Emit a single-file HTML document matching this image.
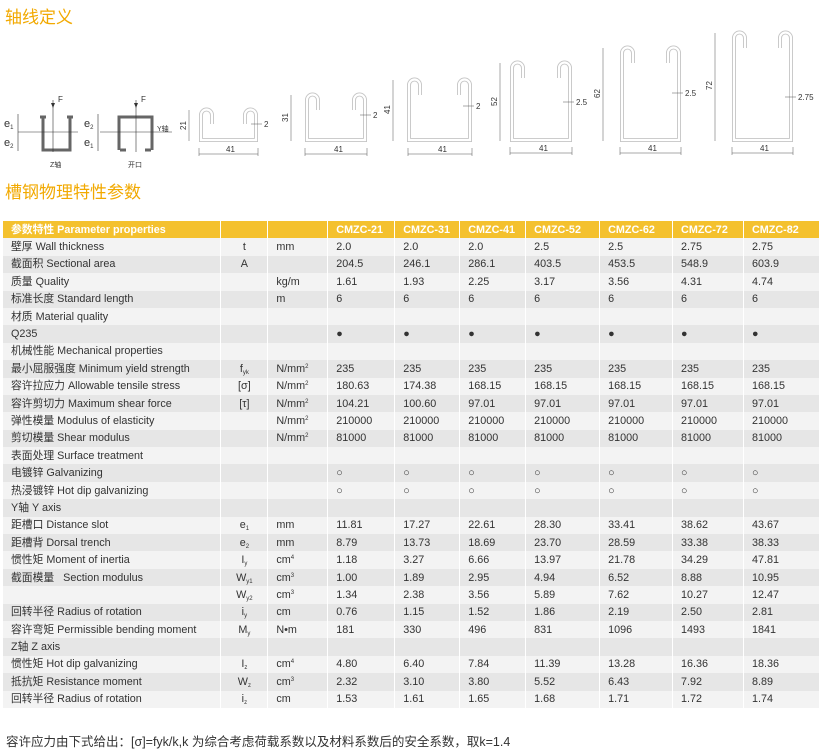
<!DOCTYPE html>
<html><head><meta charset="utf-8"><style>
body{margin:0;width:820px;height:749px;background:#fff;position:relative;overflow:hidden;font-family:"Liberation Sans","Noto Sans CJK SC",sans-serif;color:#333}
.t{position:absolute;left:5px;color:#f2a900;font-size:17px;line-height:20px;font-family:"Noto Sans CJK SC",sans-serif}
table{position:absolute;left:3px;top:221px;border-collapse:collapse;table-layout:fixed;font-size:10.8px}
tr{height:17.4px}
td{height:17.4px;max-height:17.4px;padding:0 0 0 8px;border-right:1.5px solid #fff;white-space:nowrap;overflow:hidden;line-height:14px;box-sizing:border-box}
tr.h td{background:#f4c12e;color:#fff;font-weight:bold;height:17px}
tr:nth-child(even) td{background:#f3f3f3}
tr:nth-child(odd):not(.h) td{background:#e6e6e6}
td.c{text-align:center;padding:0}
sub,sup{font-size:6px;vertical-align:baseline;position:relative;line-height:0}
sub{top:2px}sup{top:-4px}
.f{position:absolute;left:6px;top:731px;font-size:12.5px;color:#333}
</style></head><body>
<div class="t" style="top:6px">轴线定义</div>
<div class="t" style="top:181px">槽钢物理特性参数</div>
<svg width="820" height="170" style="position:absolute;left:0;top:0" font-family="Liberation Sans" font-size="8" fill="#333">
<g stroke="#666" stroke-width="3" fill="none">
<path d="M43 117 V150 H70 V117"/><path d="M40 117 h6 M67 117 h6"/>
<path d="M119 150 V117 H152 V150"/><path d="M120 150 h6 M145 150 h6"/>
</g>
<g stroke="#333" stroke-width="0.6">
<line x1="18" y1="132" x2="78" y2="132"/><line x1="53" y1="100" x2="53" y2="152"/>
<line x1="100" y1="132" x2="172" y2="132"/><line x1="136" y1="100" x2="136" y2="152"/>
<line x1="18" y1="114" x2="18" y2="151"/><line x1="98" y1="114" x2="98" y2="151"/>
</g>
<path d="M51 103 h4 l-2 5z M134 103 h4 l-2 5z" fill="#333"/>
<text x="58" y="102">F</text><text x="141" y="102">F</text>
<text x="4" y="127" font-size="11">e<tspan font-size="6" dy="2">1</tspan></text>
<text x="4" y="146" font-size="11">e<tspan font-size="6" dy="2">2</tspan></text>
<text x="84" y="127" font-size="11">e<tspan font-size="6" dy="2">2</tspan></text>
<text x="84" y="146" font-size="11">e<tspan font-size="6" dy="2">1</tspan></text>
<text x="157" y="131" font-size="7">Y轴</text>
<text x="50" y="167" font-size="7">Z轴</text><text x="128" y="167" font-size="7">开口</text>
<g fill="none">
<g stroke="#c4c4c4" stroke-width="4">
<path d="M212 124 V115 A5 5 0 0 0 201 115 V140 H256 V115 A5 5 0 0 0 245 115 V124"/>
<path d="M318 110 V100 A5 5 0 0 0 307 100 V140 H365 V100 A5 5 0 0 0 354 100 V110"/>
<path d="M420 95 V85 A5 5 0 0 0 409 85 V140 H470 V85 A5 5 0 0 0 459 85 V95"/>
<path d="M523 78 V68 A5 5 0 0 0 512 68 V140 H570 V68 A5 5 0 0 0 559 68 V78"/>
<path d="M633 63 V53 A5 5 0 0 0 622 53 V140 H679 V53 A5 5 0 0 0 668 53 V63"/>
<path d="M745 48 V38 A5 5 0 0 0 734 38 V140 H791 V38 A5 5 0 0 0 780 38 V48"/>
</g>
<g stroke="#fff" stroke-width="2.2">
<path d="M212 124 V115 A5 5 0 0 0 201 115 V140 H256 V115 A5 5 0 0 0 245 115 V124"/>
<path d="M318 110 V100 A5 5 0 0 0 307 100 V140 H365 V100 A5 5 0 0 0 354 100 V110"/>
<path d="M420 95 V85 A5 5 0 0 0 409 85 V140 H470 V85 A5 5 0 0 0 459 85 V95"/>
<path d="M523 78 V68 A5 5 0 0 0 512 68 V140 H570 V68 A5 5 0 0 0 559 68 V78"/>
<path d="M633 63 V53 A5 5 0 0 0 622 53 V140 H679 V53 A5 5 0 0 0 668 53 V63"/>
<path d="M745 48 V38 A5 5 0 0 0 734 38 V140 H791 V38 A5 5 0 0 0 780 38 V48"/>
</g>
<g stroke="#555" stroke-width="0.5">
<path d="M189 110 V141 M199 154 H258 M199 148 V156 M258 148 V156 M251 124 H262"/>
<path d="M291 95 V141 M305 154 H367 M305 148 V156 M367 148 V156 M360 115 H371"/>
<path d="M393 80 V141 M408 154 H472 M408 148 V156 M472 148 V156 M463 106 H474"/>
<path d="M500 63 V141 M510 153 H572 M510 147 V155 M572 147 V155 M563 102 H574"/>
<path d="M603 48 V141 M620 153 H681 M620 147 V155 M681 147 V155 M672 93 H683"/>
<path d="M715 33 V141 M732 153 H793 M732 147 V155 M793 147 V155 M785 97 H796"/>
</g></g>
<g font-size="8">
<text x="226" y="152">41</text><text x="334" y="152">41</text><text x="438" y="152">41</text><text x="539" y="151">41</text><text x="648" y="151">41</text><text x="760" y="151">41</text>
<text x="264" y="127">2</text><text x="373" y="118">2</text><text x="476" y="109">2</text><text x="576" y="105">2.5</text><text x="685" y="96">2.5</text><text x="798" y="100">2.75</text>
<text transform="translate(186,130) rotate(-90)">21</text><text transform="translate(288,122) rotate(-90)">31</text>
<text transform="translate(390,114) rotate(-90)">41</text><text transform="translate(497,106) rotate(-90)">52</text>
<text transform="translate(600,98) rotate(-90)">62</text><text transform="translate(712,90) rotate(-90)">72</text>
</g>
</svg>
<table>
<colgroup><col style="width:218px"><col style="width:47px"><col style="width:60px"><col style="width:67px"><col style="width:65px"><col style="width:66px"><col style="width:74px"><col style="width:73px"><col style="width:71px"><col style="width:76px"></colgroup>
<tr class="h"><td>参数特性 Parameter properties</td><td></td><td></td><td>CMZC-21</td><td>CMZC-31</td><td>CMZC-41</td><td>CMZC-52</td><td>CMZC-62</td><td>CMZC-72</td><td>CMZC-82</td></tr>
<tr><td>壁厚 Wall thickness</td><td class="c">t</td><td>mm</td><td>2.0</td><td>2.0</td><td>2.0</td><td>2.5</td><td>2.5</td><td>2.75</td><td>2.75</td></tr>
<tr><td>截面积 Sectional area</td><td class="c">A</td><td></td><td>204.5</td><td>246.1</td><td>286.1</td><td>403.5</td><td>453.5</td><td>548.9</td><td>603.9</td></tr>
<tr><td>质量 Quality</td><td></td><td>kg/m</td><td>1.61</td><td>1.93</td><td>2.25</td><td>3.17</td><td>3.56</td><td>4.31</td><td>4.74</td></tr>
<tr><td>标准长度 Standard length</td><td></td><td>m</td><td>6</td><td>6</td><td>6</td><td>6</td><td>6</td><td>6</td><td>6</td></tr>
<tr><td>材质 Material quality</td><td></td><td></td><td></td><td></td><td></td><td></td><td></td><td></td><td></td></tr>
<tr><td>Q235</td><td></td><td></td><td>●</td><td>●</td><td>●</td><td>●</td><td>●</td><td>●</td><td>●</td></tr>
<tr><td>机械性能 Mechanical properties</td><td></td><td></td><td></td><td></td><td></td><td></td><td></td><td></td><td></td></tr>
<tr><td>最小屈服强度 Minimum yield strength</td><td class="c">f<sub>yk</sub></td><td>N/mm<sup>2</sup></td><td>235</td><td>235</td><td>235</td><td>235</td><td>235</td><td>235</td><td>235</td></tr>
<tr><td>容许拉应力 Allowable tensile stress</td><td class="c">[σ]</td><td>N/mm<sup>2</sup></td><td>180.63</td><td>174.38</td><td>168.15</td><td>168.15</td><td>168.15</td><td>168.15</td><td>168.15</td></tr>
<tr><td>容许剪切力 Maximum shear force</td><td class="c">[τ]</td><td>N/mm<sup>2</sup></td><td>104.21</td><td>100.60</td><td>97.01</td><td>97.01</td><td>97.01</td><td>97.01</td><td>97.01</td></tr>
<tr><td>弹性模量 Modulus of elasticity</td><td></td><td>N/mm<sup>2</sup></td><td>210000</td><td>210000</td><td>210000</td><td>210000</td><td>210000</td><td>210000</td><td>210000</td></tr>
<tr><td>剪切模量 Shear modulus</td><td></td><td>N/mm<sup>2</sup></td><td>81000</td><td>81000</td><td>81000</td><td>81000</td><td>81000</td><td>81000</td><td>81000</td></tr>
<tr><td>表面处理 Surface treatment</td><td></td><td></td><td></td><td></td><td></td><td></td><td></td><td></td><td></td></tr>
<tr><td>电镀锌 Galvanizing</td><td></td><td></td><td>○</td><td>○</td><td>○</td><td>○</td><td>○</td><td>○</td><td>○</td></tr>
<tr><td>热浸镀锌 Hot dip galvanizing</td><td></td><td></td><td>○</td><td>○</td><td>○</td><td>○</td><td>○</td><td>○</td><td>○</td></tr>
<tr><td>Y轴 Y axis</td><td></td><td></td><td></td><td></td><td></td><td></td><td></td><td></td><td></td></tr>
<tr><td>距槽口 Distance slot</td><td class="c">e<sub>1</sub></td><td>mm</td><td>11.81</td><td>17.27</td><td>22.61</td><td>28.30</td><td>33.41</td><td>38.62</td><td>43.67</td></tr>
<tr><td>距槽背 Dorsal trench</td><td class="c">e<sub>2</sub></td><td>mm</td><td>8.79</td><td>13.73</td><td>18.69</td><td>23.70</td><td>28.59</td><td>33.38</td><td>38.33</td></tr>
<tr><td>惯性矩 Moment of inertia</td><td class="c">I<sub>y</sub></td><td>cm<sup>4</sup></td><td>1.18</td><td>3.27</td><td>6.66</td><td>13.97</td><td>21.78</td><td>34.29</td><td>47.81</td></tr>
<tr><td>截面模量 &nbsp; Section modulus</td><td class="c">W<sub>y1</sub></td><td>cm<sup>3</sup></td><td>1.00</td><td>1.89</td><td>2.95</td><td>4.94</td><td>6.52</td><td>8.88</td><td>10.95</td></tr>
<tr><td></td><td class="c">W<sub>y2</sub></td><td>cm<sup>3</sup></td><td>1.34</td><td>2.38</td><td>3.56</td><td>5.89</td><td>7.62</td><td>10.27</td><td>12.47</td></tr>
<tr><td>回转半径 Radius of rotation</td><td class="c">i<sub>y</sub></td><td>cm</td><td>0.76</td><td>1.15</td><td>1.52</td><td>1.86</td><td>2.19</td><td>2.50</td><td>2.81</td></tr>
<tr><td>容许弯矩 Permissible bending moment</td><td class="c">M<sub>y</sub></td><td>N•m</td><td>181</td><td>330</td><td>496</td><td>831</td><td>1096</td><td>1493</td><td>1841</td></tr>
<tr><td>Z轴 Z axis</td><td></td><td></td><td></td><td></td><td></td><td></td><td></td><td></td><td></td></tr>
<tr><td>惯性矩 Hot dip galvanizing</td><td class="c">I<sub>z</sub></td><td>cm<sup>4</sup></td><td>4.80</td><td>6.40</td><td>7.84</td><td>11.39</td><td>13.28</td><td>16.36</td><td>18.36</td></tr>
<tr><td>抵抗矩 Resistance moment</td><td class="c">W<sub>z</sub></td><td>cm<sup>3</sup></td><td>2.32</td><td>3.10</td><td>3.80</td><td>5.52</td><td>6.43</td><td>7.92</td><td>8.89</td></tr>
<tr><td>回转半径 Radius of rotation</td><td class="c">i<sub>z</sub></td><td>cm</td><td>1.53</td><td>1.61</td><td>1.65</td><td>1.68</td><td>1.71</td><td>1.72</td><td>1.74</td></tr>
</table>
<div class="f">容许应力由下式给出：[σ]=fyk/k,k 为综合考虑荷载系数以及材料系数后的安全系数，取k=1.4</div>
</body></html>
